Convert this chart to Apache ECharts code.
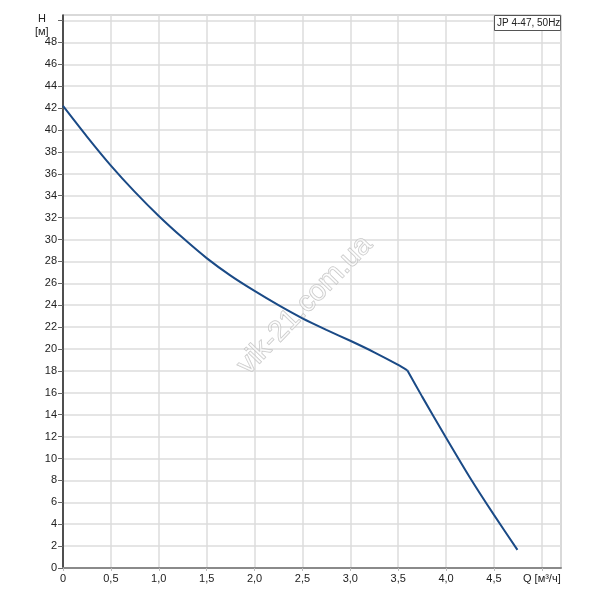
<!DOCTYPE html>
<html>
<head>
<meta charset="utf-8">
<script src="https://cdn.jsdelivr.net/npm/echarts@6/dist/echarts.min.js"></script>
<style>html,body{margin:0;padding:0;background:#fff}#c{width:600px;height:600px}</style>
</head>
<body>
<div id="c"></div>
<script>
// Pump curve data (Q in m³/h, H in m)
var curveQ1 = [0, 0.25, 0.5, 0.75, 1.0, 1.25, 1.5, 1.75, 2.0, 2.25, 2.5, 2.75, 3.0, 3.25, 3.5, 3.595];
var curveH1 = [42.2, 39.4, 36.75, 34.35, 32.15, 30.15, 28.3, 26.7, 25.3, 24.0, 22.8, 21.75, 20.75, 19.7, 18.55, 18.05];
var curveQ2 = [3.595, 3.75, 4.0, 4.25, 4.5, 4.745];
var curveH2 = [18.05, 15.65, 11.9, 8.25, 4.85, 1.65];
var legendText = 'JP 4-47, 50Hz';
var xAxisName = 'Q [м³/ч]';
var yAxisName1 = 'H';
var yAxisName2 = '[м]';
var watermark = 'vik-21.com.ua';

function pairs(q, h) { return q.map(function (v, i) { return [v, h[i]]; }); }

var chart = echarts.init(document.getElementById('c'));
var font = 'Liberation Sans, Arial, sans-serif';
chart.setOption({
  animation: false,
  grid: { left: 63, right: 39, top: 15, bottom: 32, show: true, borderColor: '#a0a0a0', borderWidth: 1 },
  xAxis: {
    type: 'value', min: 0, max: 5.2, interval: 0.5,
    axisLine: { show: true, lineStyle: { color: '#8a8a8a', width: 2 } },
    axisTick: { show: true, length: 3, lineStyle: { color: '#bbb' } },
    splitLine: { show: true, lineStyle: { color: '#dcdcdc', width: 1.5 } },
    axisLabel: {
      color: '#222', fontFamily: font, fontSize: 11, margin: 5, showMaxLabel: false,
      formatter: function (v) {
        if (Math.abs(v - 5) < 1e-6) return xAxisName;
        if (v > 5.01) return '';
        return v === 0 ? '0' : v.toFixed(1).replace('.', ',');
      }
    }
  },
  yAxis: {
    type: 'value', min: 0, max: 50.5, interval: 2,
    axisLine: { show: true, onZero: false, lineStyle: { color: '#222', width: 1.5 } },
    axisTick: { show: true, length: 5, lineStyle: { color: '#666' } },
    splitLine: { show: true, lineStyle: { color: '#dcdcdc', width: 1.5 } },
    axisLabel: {
      color: '#222', fontFamily: font, fontSize: 11, margin: 6, showMaxLabel: false,
      formatter: function (v) { return v >= 49.9 ? '' : String(v); }
    }
  },
  series: [
    { type: 'line', data: pairs(curveQ1, curveH1), smooth: 0.25, showSymbol: false, lineStyle: { color: '#1a4a86', width: 2 }, z: 5 },
    { type: 'line', data: pairs(curveQ2, curveH2), smooth: 0.25, showSymbol: false, lineStyle: { color: '#1a4a86', width: 2 }, z: 5 }
  ],
  graphic: [
    { type: 'text', x: 38, y: 13, style: { text: yAxisName1, fill: '#222', font: '11px ' + font } },
    { type: 'text', x: 35, y: 26, style: { text: yAxisName2, fill: '#222', font: '11px ' + font } },
    { type: 'rect', z: 10, shape: { x: 494.5, y: 15.5, width: 66, height: 15 }, style: { fill: '#fff', stroke: '#555', lineWidth: 1 } },
    { type: 'text', z: 11, x: 497, y: 18, style: { text: legendText, fill: '#222', font: '10px ' + font } },
    { type: 'text', x: 305, y: 305, rotation: 46 * Math.PI / 180, originX: 0, originY: 0, z: 3,
      style: { text: watermark, fill: 'rgba(255,255,255,0.5)', stroke: 'rgba(175,175,175,0.75)', lineWidth: 1, font: '29px ' + font, align: 'center', verticalAlign: 'middle' } }
  ]
});
</script>
</body>
</html>
